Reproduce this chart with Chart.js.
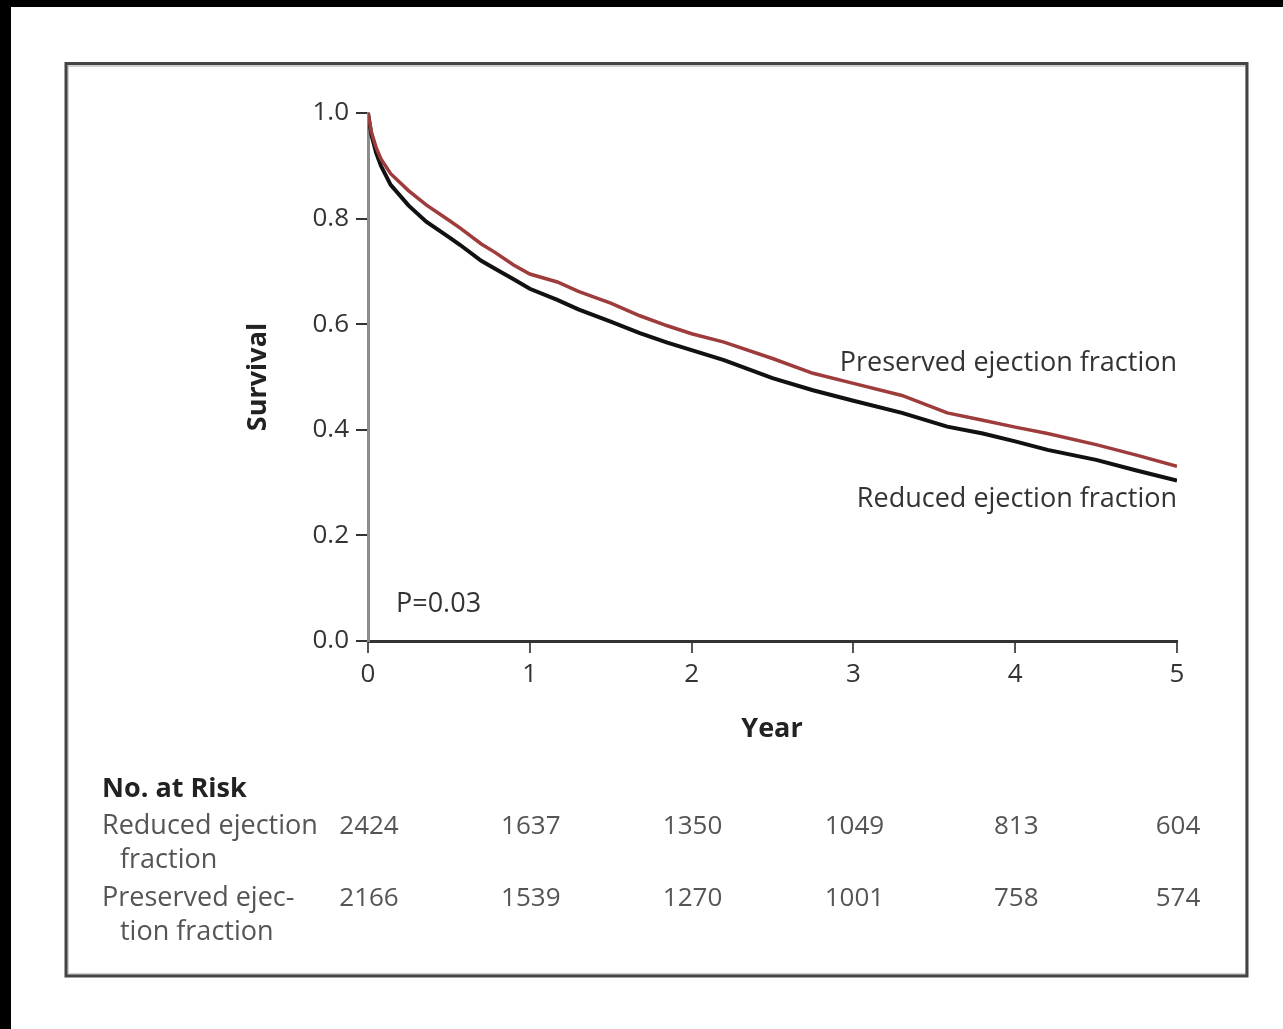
<!DOCTYPE html>
<html>
<head>
<meta charset="utf-8">
<script src="https://cdn.jsdelivr.net/npm/chart.js@4"></script>
<style>
  html, body { margin: 0; padding: 0; background: #fff; }
  canvas { display: block; }
</style>
</head>
<body>
<canvas id="chart" width="1283" height="1029"></canvas>
<script>
// Kaplan-Meier survival, reduced vs preserved ejection fraction
const reducedYears    = [0, 0.02, 0.05, 0.08, 0.14, 0.25, 0.36, 0.5, 0.57, 0.7, 0.78, 0.9, 1.0, 1.17, 1.3, 1.5, 1.68, 1.85, 2.0, 2.2, 2.5, 2.75, 3.0, 3.3, 3.58, 3.8, 4.0, 4.2, 4.5, 4.75, 5.0];
const reducedSurvival = [1.0, 0.96, 0.925, 0.9, 0.864, 0.825, 0.794, 0.765, 0.75, 0.72, 0.706, 0.685, 0.667, 0.646, 0.628, 0.605, 0.583, 0.565, 0.551, 0.532, 0.498, 0.475, 0.455, 0.432, 0.406, 0.393, 0.378, 0.362, 0.343, 0.323, 0.304];

const preservedYears    = [0, 0.02, 0.05, 0.08, 0.14, 0.25, 0.36, 0.5, 0.57, 0.7, 0.78, 0.9, 1.0, 1.17, 1.3, 1.5, 1.68, 1.85, 2.0, 2.2, 2.5, 2.75, 3.0, 3.3, 3.58, 3.8, 4.0, 4.2, 4.5, 4.75, 5.0];
const preservedSurvival = [1.0, 0.965, 0.935, 0.913, 0.885, 0.853, 0.826, 0.797, 0.782, 0.752, 0.737, 0.712, 0.695, 0.68, 0.662, 0.64, 0.616, 0.597, 0.582, 0.566, 0.535, 0.507, 0.488, 0.465, 0.432, 0.418, 0.405, 0.393, 0.372, 0.352, 0.331];

// number at risk at each whole year
const riskYears       = [0, 1, 2, 3, 4, 5];
const reducedAtRisk   = [2424, 1637, 1350, 1049, 813, 604];
const preservedAtRisk = [2166, 1539, 1270, 1001, 758, 574];

const reducedLabel   = ['Reduced ejection', 'fraction'];
const preservedLabel = ['Preserved ejec-', 'tion fraction'];

const FONT = '"Open Sans", "Noto Sans", sans-serif';

const toPoints = (xs, ys) => xs.map((x, i) => ({ x: x, y: ys[i] }));

// page frame: dark strips on top/left and the grey bordered panel
const framePlugin = {
  id: 'frame',
  beforeDraw(chart) {
    const c = chart.ctx;
    c.save();
    c.fillStyle = '#fff';
    c.fillRect(0, 0, chart.width, chart.height);
    c.fillStyle = '#000';
    c.fillRect(0, 0, chart.width, 7);
    c.fillRect(0, 0, 11, chart.height);
    // inner light line
    c.strokeStyle = '#cfcfcf';
    c.lineWidth = 2;
    c.strokeRect(68, 66, 1246 - 68, 974 - 66);
    c.strokeStyle = '#444';
    c.lineWidth = 3;
    c.strokeRect(66, 63.5, 1247 - 66, 976 - 63.5);
    c.restore();
  }
};

// curve labels, axis titles, P value and the at-risk table
const textPlugin = {
  id: 'texts',
  afterDraw(chart) {
    const c = chart.ctx;
    const xs = chart.scales.x;
    c.save();
    c.textBaseline = 'alphabetic';

    c.fillStyle = '#333';
    c.font = '27px ' + FONT;
    c.textAlign = 'right';
    c.fillText('Preserved ejection fraction', 1177, 371);
    c.fillText('Reduced ejection fraction', 1177, 507);
    c.textAlign = 'left';
    c.fillText('P=0.03', 396, 612);

    c.fillStyle = '#222';
    c.font = 'bold 27px ' + FONT;
    c.textAlign = 'center';
    c.fillText('Year', 772, 737);
    c.save();
    c.translate(266, 377);
    c.rotate(-Math.PI / 2);
    c.fillText('Survival', 0, 0);
    c.restore();

    c.textAlign = 'left';
    c.fillText('No. at Risk', 102, 797);

    c.fillStyle = '#555';
    c.font = '27px ' + FONT;
    c.fillText(reducedLabel[0], 102, 834);
    c.fillText(reducedLabel[1], 120, 868);
    c.fillText(preservedLabel[0], 102, 906);
    c.fillText(preservedLabel[1], 120, 940);

    c.font = '26px ' + FONT;
    c.textAlign = 'center';
    riskYears.forEach((yr, i) => {
      const px = xs.getPixelForValue(yr);
      c.fillText(String(reducedAtRisk[i]), px + 1, 834);
      c.fillText(String(preservedAtRisk[i]), px + 1, 906);
    });
    c.restore();
  }
};

const ctx = document.getElementById('chart').getContext('2d');
new Chart(ctx, {
  type: 'line',
  data: {
    datasets: [
      {
        label: 'Preserved ejection fraction',
        data: toPoints(preservedYears, preservedSurvival),
        borderColor: '#9e3b3b',
        borderWidth: 3.5,
        pointRadius: 0,
        tension: 0
      },
      {
        label: 'Reduced ejection fraction',
        data: toPoints(reducedYears, reducedSurvival),
        borderColor: '#111',
        borderWidth: 4,
        pointRadius: 0,
        tension: 0
      }
    ]
  },
  options: {
    responsive: false,
    animation: false,
    events: [],
    layout: { padding: { left: 298, top: 113, right: 106, bottom: 338 } },
    plugins: { legend: { display: false }, tooltip: { enabled: false } },
    scales: {
      x: {
        type: 'linear',
        min: 0,
        max: 5,
        afterFit: s => { s.height = 50; },
        border: { color: '#333', width: 3 },
        grid: { drawOnChartArea: false, drawTicks: true, tickLength: 12, tickColor: '#555', lineWidth: 2 },
        ticks: {
          stepSize: 1,
          padding: 6,
          color: '#333',
          font: { family: FONT, size: 26 }
        }
      },
      y: {
        min: 0,
        max: 1,
        afterFit: s => { s.width = 70; },
        border: { color: '#8c8c8c', width: 3 },
        grid: { drawOnChartArea: false, drawTicks: true, tickLength: 12, tickColor: '#333', lineWidth: 2 },
        ticks: {
          stepSize: 0.2,
          padding: 7,
          color: '#333',
          font: { family: FONT, size: 26 },
          callback: v => v.toFixed(1)
        }
      }
    }
  },
  plugins: [framePlugin, textPlugin]
});
</script>
</body>
</html>
